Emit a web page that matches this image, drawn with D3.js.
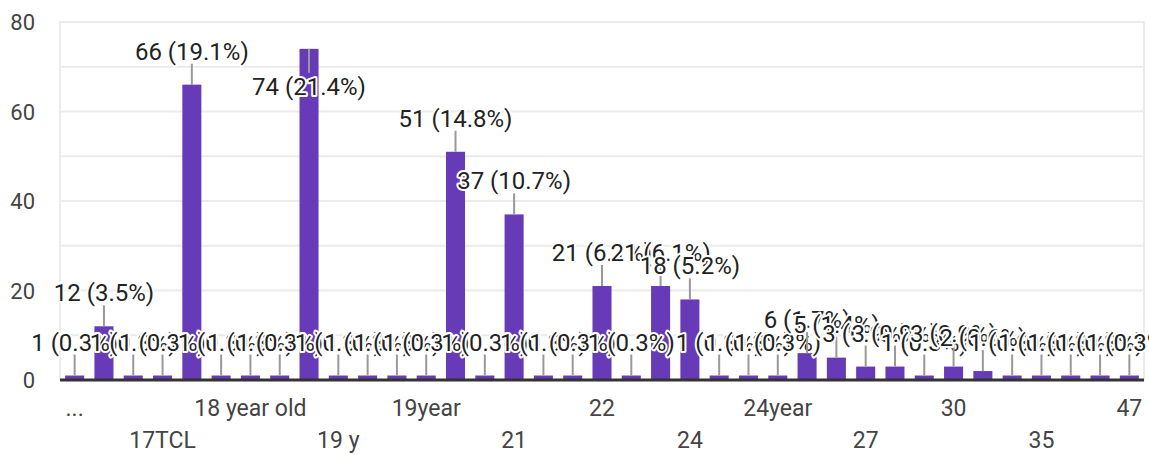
<!DOCTYPE html>
<html>
<head>
<meta charset="utf-8">
<script src="https://cdn.jsdelivr.net/npm/d3@7"></script>
<style>
  html, body { margin: 0; padding: 0; background: #fff; }
  svg { display: block; font-family: Roboto, "Noto Sans", Arial, sans-serif; }
</style>
</head>
<body>
<svg id="chart" width="1149" height="455"></svg>
<script>
// ---- data ----
const categories = [
  "...", "17", "17 year", "17TCL", "18", "18 Year", "18 year old", "18year",
  "19", "19 y", "19 year", "19 years", "19year", "20", "20 year", "21",
  "21 year", "21year", "22", "22 year", "23", "24", "24 year", "24 years",
  "24year", "25", "26", "27", "28", "29", "30", "31", "33", "35", "38", "40", "47"
];
const counts = [
  1, 12, 1, 1, 66, 1, 1, 1,
  74, 1, 1, 1, 1, 51, 1, 37,
  1, 1, 21, 1, 21, 18, 1, 1,
  1, 6, 5, 3, 3, 1, 3, 2, 1, 1, 1, 1, 1
];
const yTicks = [0, 20, 40, 60, 80];
const yGrid = [10, 20, 30, 40, 50, 60, 70, 80];

(function () {
// ---- layout ----
const pL = 60, pR = 1144, pT = 22, pB = 380;
const total = d3.sum(counts);

const svg = d3.select("#chart");
const x = d3.scaleBand().domain(categories).range([pL, pR]).paddingInner(0.35).paddingOuter(0.175);
const y = d3.scaleLinear().domain([0, 80]).range([pB, pT]);

// gridlines
svg.append("g").selectAll("line").data(yGrid).join("line")
  .attr("x1", pL).attr("x2", pR)
  .attr("y1", d => y(d)).attr("y2", d => y(d))
  .attr("stroke", "#ebebeb").attr("stroke-width", 2);
// chart-area side borders
svg.append("g").selectAll("line").data([pL, pR]).join("line")
  .attr("x1", d => d).attr("x2", d => d)
  .attr("y1", y(80) - 1).attr("y2", pB)
  .attr("stroke", "#ebebeb").attr("stroke-width", 2);

// y axis labels
svg.append("g").selectAll("text").data(yTicks).join("text")
  .attr("x", 35).attr("y", d => y(d) + 8)
  .attr("text-anchor", "end")
  .attr("font-size", 22).attr("fill", "#444")
  .text(d => d);

// bars
const data = categories.map((c, i) => ({ c, v: counts[i], i }));
svg.append("g").selectAll("rect").data(data).join("rect")
  .attr("x", d => x(d.c)).attr("width", x.bandwidth())
  .attr("y", d => y(d.v)).attr("height", d => pB - y(d.v))
  .attr("fill", "#673ab7");

// baseline
svg.append("line")
  .attr("x1", pL).attr("x2", pR)
  .attr("y1", pB).attr("y2", pB)
  .attr("stroke", "#333").attr("stroke-width", 3);

// x axis labels (every third category, staggered in two rows)
svg.append("g").selectAll("text").data(data.filter(d => d.i % 3 === 0)).join("text")
  .attr("x", d => x(d.c) + x.bandwidth() / 2)
  .attr("y", d => (d.i / 3) % 2 === 0 ? 416 : 448)
  .attr("text-anchor", "middle")
  .attr("font-size", 23).attr("fill", "#444")
  .text(d => d.c);

// annotations
const ann = svg.append("g");
data.forEach(d => {
  const cx = x(d.c) + x.bandwidth() / 2;
  const yt = y(d.v);
  const flip = (yt - 25 - 17) < pT;
  const stemEnd = flip ? yt + 24 : yt - 21;
  const base = flip ? yt + 46 : yt - 25;
  ann.append("line")
    .attr("x1", cx).attr("x2", cx)
    .attr("y1", yt).attr("y2", stemEnd)
    .attr("stroke", "#999").attr("stroke-width", 2);
  ann.append("text")
    .attr("x", cx).attr("y", base)
    .attr("text-anchor", "middle")
    .attr("font-size", 24).attr("fill", "#222")
    .attr("stroke", "#fff").attr("stroke-width", 4)
    .attr("stroke-linejoin", "round").attr("paint-order", "stroke")
    .text(`${d.v} (${(d.v / total * 100).toFixed(1)}%)`);
});
})();
</script>
</body>
</html>
